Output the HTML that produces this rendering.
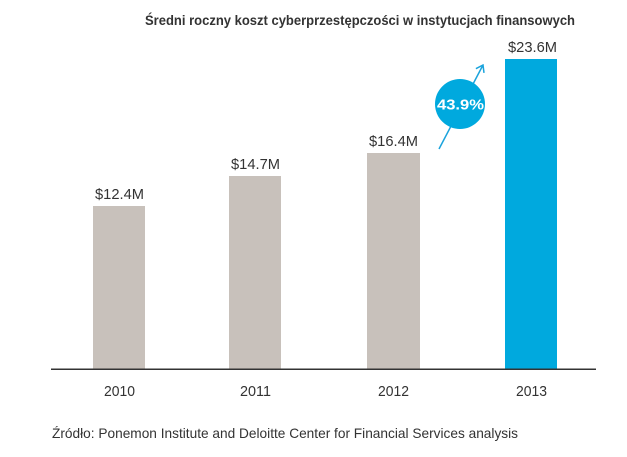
<!DOCTYPE html>
<html>
<head>
<meta charset="utf-8">
<style>
html,body{margin:0;padding:0;background:#fff;}
svg{display:block;}
text{font-family:"Liberation Sans","DejaVu Sans",sans-serif;}
</style>
</head>
<body>
<svg width="627" height="457" viewBox="0 0 627 457" xmlns="http://www.w3.org/2000/svg">
  <rect x="0" y="0" width="627" height="457" fill="#ffffff"/>
  <!-- Title -->
  <text x="145" y="25" font-size="14" font-weight="bold" fill="#333333" textLength="430" lengthAdjust="spacingAndGlyphs">Średni roczny koszt cyberprzestępczości w instytucjach finansowych</text>

  <!-- Bars -->
  <rect x="93" y="206" width="52" height="163" fill="#c8c1bb"/>
  <rect x="229" y="176" width="52" height="193" fill="#c8c1bb"/>
  <rect x="367" y="153" width="53" height="216" fill="#c8c1bb"/>
  <rect x="505" y="59" width="52" height="310" fill="#00a9de"/>

  <!-- Axis -->
  <rect x="51" y="368.5" width="545" height="1.5" fill="#333333"/>

  <!-- Value labels -->
  <g font-size="15" fill="#333333">
    <text x="95" y="199" textLength="49" lengthAdjust="spacingAndGlyphs">$12.4M</text>
    <text x="231" y="169" textLength="49" lengthAdjust="spacingAndGlyphs">$14.7M</text>
    <text x="369" y="146" textLength="49" lengthAdjust="spacingAndGlyphs">$16.4M</text>
    <text x="508" y="52" textLength="49" lengthAdjust="spacingAndGlyphs">$23.6M</text>
  </g>

  <!-- Year labels -->
  <g font-size="15" fill="#333333">
    <text x="104" y="396" textLength="31" lengthAdjust="spacingAndGlyphs">2010</text>
    <text x="240" y="396" textLength="31" lengthAdjust="spacingAndGlyphs">2011</text>
    <text x="378" y="396" textLength="31" lengthAdjust="spacingAndGlyphs">2012</text>
    <text x="516" y="396" textLength="31" lengthAdjust="spacingAndGlyphs">2013</text>
  </g>

  <!-- Arrow and circle -->
  <line x1="439" y1="149" x2="483" y2="65" stroke="#1aa3dc" stroke-width="1.5"/>
  <polyline points="475.9,68.7 483,65 484,72.9" fill="none" stroke="#1aa3dc" stroke-width="1.5"/>
  <circle cx="460" cy="104" r="25" fill="#00a9de"/>
  <text x="437" y="109.5" font-size="15" font-weight="bold" fill="#ffffff" textLength="47" lengthAdjust="spacingAndGlyphs">43.9%</text>

  <!-- Footer -->
  <text x="52" y="438" font-size="14" fill="#333333" textLength="466" lengthAdjust="spacingAndGlyphs">Źródło: Ponemon Institute and Deloitte Center for Financial Services analysis</text>
</svg>
</body>
</html>
